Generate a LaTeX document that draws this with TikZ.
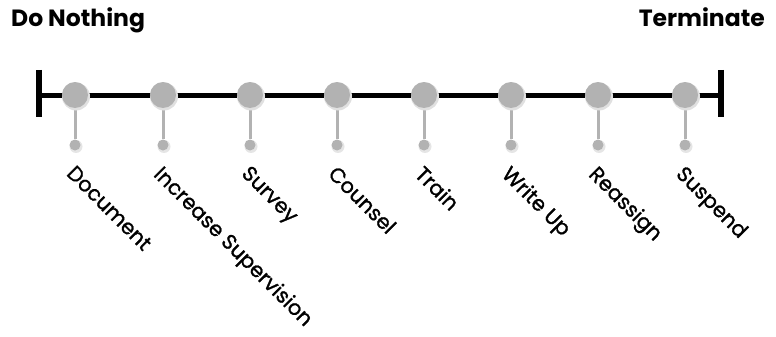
\documentclass[tikz,border=0pt]{standalone}
\usepackage{fontspec}
\setmainfont{Poppins}
\newfontfamily\labfont[FakeBold=1.2]{Poppins}
\begin{document}
\begin{tikzpicture}[x=1pt,y=-1pt,
  bigdot/.style={circle,fill=black!30,minimum size=26pt,inner sep=0pt},
  smalldot/.style={circle,fill=black!30,minimum size=11pt,inner sep=0pt},
  shade/.style={circle,fill=black!12,inner sep=0pt},
  stem/.style={draw=black!30,line width=3pt},
  axis/.style={draw=black,line width=5pt},
  endbar/.style={draw=black,line width=5.5pt},
  lab/.style={rotate=-45,anchor=north west,inner sep=0pt,font=\labfont\fontsize{20.8}{20.8}\selectfont},
  head/.style={inner sep=0pt,font=\bfseries\fontsize{23.5}{23.5}\selectfont}]
\useasboundingbox (0,0) rectangle (776,337);
\node[head,anchor=base west] (dn) at (11,27) {Do Nothing};
\node[head,anchor=base east] (tm) at (765,27) {Terminate};
\coordinate (L) at (39,95);
\coordinate (R) at (721,95);
\coordinate (Lt) at (39,70); \coordinate (Lb) at (39,117);
\coordinate (Rt) at (721,70); \coordinate (Rb) at (721,117);
\draw[endbar] (Lt) -- (Lb);
\draw[endbar] (Rt) -- (Rb);
\draw[axis] (L) -- (R);
\foreach \i/\x/\t in {1/75/Document,2/163/Increase Supervision,3/250/Survey,4/337/Counsel,5/424/Train,6/511/Write Up,7/598/Reassign,8/685/Suspend}{
  \node[smalldot,fill=black!10,minimum size=13pt] at (\x+1,146.5) {};
  \node[smalldot] (s\i) at (\x,145) {};
  \draw[stem] (\x,95) -- (s\i);
  \node[shade,minimum size=28pt] at (\x+1,96.5) {};
  \node[bigdot] (b\i) at (\x,95) {};
  \node[lab] (t\i) at (\x+1,164) {\t};
}
\end{tikzpicture}
\end{document}
